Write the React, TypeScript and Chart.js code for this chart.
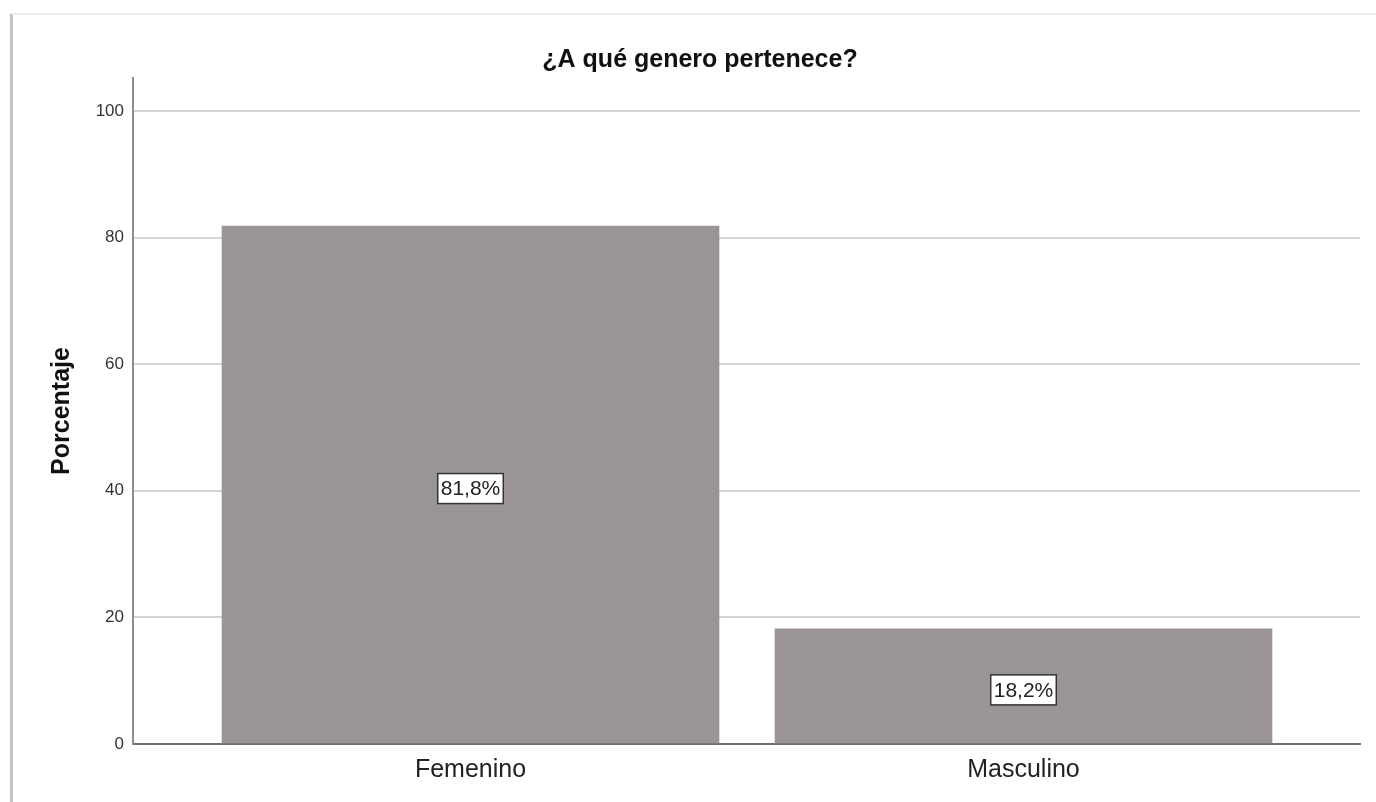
import React, { useEffect, useRef } from "react";
import { Chart, registerables } from "chart.js";

Chart.register(...registerables);

const categories = ["Femenino", "Masculino"];
const percentages = [81.8, 18.2];
const percentLabels = ["81,8%", "18,2%"];
const yTicks = [0, 20, 40, 60, 80, 100];

const FONT = "Arial, 'Liberation Sans', sans-serif";

// Boxed percentage labels placed in the middle of each bar
const boxedLabels = {
  id: "boxedLabels",
  afterDatasetsDraw(chart: any) {
    const { ctx } = chart;
    const meta = chart.getDatasetMeta(0);
    ctx.save();
    ctx.font = `21px ${FONT}`;
    ctx.textAlign = "center";
    ctx.textBaseline = "middle";
    meta.data.forEach((bar: any, i: number) => {
      const text = percentLabels[i];
      const cx = bar.x;
      const cy = (bar.y + bar.base) / 2 + 4;
      const w = ctx.measureText(text).width + 6;
      const h = 30;
      ctx.fillStyle = "#ffffff";
      ctx.fillRect(cx - w / 2, cy - h / 2, w, h);
      ctx.strokeStyle = "#333333";
      ctx.lineWidth = 1.5;
      ctx.strokeRect(cx - w / 2, cy - h / 2, w, h);
      ctx.fillStyle = "#222222";
      ctx.fillText(text, cx, cy + 1);
    });
    ctx.restore();
  },
};

export default function App() {
  const canvasRef = useRef<HTMLCanvasElement | null>(null);

  useEffect(() => {
    if (!canvasRef.current) return;
    const chart = new Chart(canvasRef.current, {
      type: "bar",
      data: {
        datasets: [
          {
            data: percentages.map((v, i) => ({ x: i, y: v })),
            backgroundColor: "#9a9594",
            borderWidth: 0,
            barThickness: 497,
          },
        ],
      },
      options: {
        animation: false,
        responsive: false,
        maintainAspectRatio: false,
        layout: { padding: { top: 36, left: 40, right: 16, bottom: 0 } },
        plugins: {
          legend: { display: false },
          tooltip: { enabled: false },
          title: {
            display: true,
            text: "¿A qué genero pertenece?",
            color: "#111111",
            font: { family: FONT, size: 25, weight: "bold" },
            padding: { top: 9, bottom: 3 },
          },
        },
        scales: {
          x: {
            type: "linear",
            min: -0.6103,
            max: 1.6085,
            offset: false,
            bounds: "data",
            grid: { display: false, drawTicks: false, offset: false },
            border: { display: true, color: "#6e6e6e", width: 2 },
            afterBuildTicks(scale: any) {
              scale.ticks = categories.map((_, i) => ({ value: i }));
            },
            afterFit(scale: any) {
              scale.height = 58;
            },
            ticks: {
              padding: 11,
              color: "#222222",
              font: { family: FONT, size: 25 },
              callback: (v: any) => categories[v] ?? "",
            },
          },
          y: {
            min: 0,
            max: 105.2,
            afterBuildTicks(scale: any) {
              scale.ticks = yTicks.map((v) => ({ value: v }));
            },
            afterFit(scale: any) {
              scale.width = 93;
            },
            grid: { color: "#d4d4d4", lineWidth: 2, drawTicks: false },
            border: { display: true, color: "#8c8c8c", width: 2 },
            ticks: {
              padding: 9,
              color: "#333333",
              font: { family: FONT, size: 17 },
            },
            title: {
              display: true,
              text: "Porcentaje",
              color: "#111111",
              font: { family: FONT, size: 25, weight: "bold" },
              padding: { top: 7, bottom: 0 },
            },
          },
        },
      },
      plugins: [boxedLabels],
    });
    return () => chart.destroy();
  }, []);

  return (
    <div style={{ position: "fixed", left: 0, top: 0, width: 1376, height: 802, background: "#ffffff" }}>
      <div
        style={{
          position: "absolute",
          left: 10,
          top: 13,
          right: 0,
          bottom: 0,
          borderLeft: "3px solid #c4c4c4",
          borderTop: "2px solid #ededed",
        }}
      />
      <canvas
        ref={canvasRef}
        width={1376}
        height={802}
        style={{ position: "absolute", left: 0, top: 0, width: 1376, height: 802 }}
      />
    </div>
  );
}
